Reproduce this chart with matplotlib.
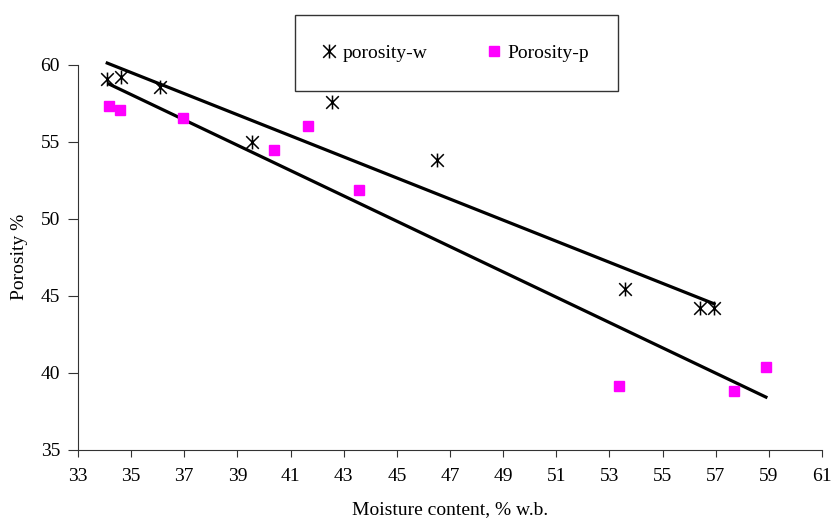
import matplotlib.pyplot as plt
import numpy as np
from matplotlib.path import Path
from matplotlib.patches import Rectangle

# data
moist_w = [34.10, 34.61, 36.09, 39.56, 42.57, 46.51, 53.59, 56.41, 56.94]
por_w = [59.07, 59.22, 58.57, 54.96, 57.56, 53.81, 45.42, 44.22, 44.22]
moist_p = [34.17, 34.57, 36.95, 40.38, 41.66, 43.59, 53.35, 57.70, 58.89]
por_p = [57.32, 57.10, 56.54, 54.44, 56.06, 51.88, 39.14, 38.81, 40.39]
xticks = list(range(33, 62, 2))
yticks = list(range(35, 61, 5))

plt.rcParams['font.family'] = ['Liberation Serif', 'DejaVu Serif']

# asterisk-like marker: an X with a vertical bar
star = Path([(-1, -1), (1, 1), (-1, 1), (1, -1), (0, -1.1), (0, 1.1)],
            [Path.MOVETO, Path.LINETO, Path.MOVETO, Path.LINETO, Path.MOVETO, Path.LINETO])

fig = plt.figure(figsize=(8.33, 5.23), dpi=100)
ax = fig.add_axes([78 / 833, 0.140, 744 / 833, 0.736])

# trend lines
for xs, ys in [(moist_w, por_w), (moist_p, por_p)]:
    k, b = np.polyfit(xs, ys, 1)
    xx = np.array([min(xs), max(xs)])
    ax.plot(xx, k * xx + b, color='black', lw=2.3, clip_on=False, zorder=2)

ax.plot(moist_w, por_w, linestyle='none', marker=star, markersize=10,
        markeredgewidth=1.1, color='black', label='porosity-w', clip_on=False, zorder=3)
ax.plot(moist_p, por_p, linestyle='none', marker='s', markersize=7,
        color='#ff00ff', label='Porosity-p', zorder=3)

ax.set_xlim(33, 61)
ax.set_ylim(35, 60)
ax.set_xticks(xticks)
ax.set_yticks(yticks)
ax.spines['top'].set_visible(False)
ax.spines['right'].set_visible(False)
for s in ['left', 'bottom']:
    ax.spines[s].set_color('#333333')
ax.tick_params(axis='both', labelsize=14, direction='out', color='#333333')
ax.tick_params(axis='x', length=5, pad=8)
ax.tick_params(axis='y', length=7, pad=6)
ax.set_xlabel('Moisture content, % w.b.', fontsize=14, labelpad=12)
ax.set_ylabel('Porosity %', fontsize=14, labelpad=9)

# legend box above the plot
fig.patches.append(Rectangle((295 / 833, 1 - 91 / 523), 323 / 833, 76 / 523,
                             transform=fig.transFigure, facecolor='white',
                             edgecolor='#333333', lw=1, zorder=5))
leg = fig.legend(loc='center', bbox_to_anchor=(454 / 833, 1 - 53 / 523), ncol=2,
                 frameon=False, fontsize=14, handletextpad=0.2, columnspacing=2.9,
                 handlelength=1.0)
leg.set_zorder(6)

fig.savefig('out.png', dpi=100)
